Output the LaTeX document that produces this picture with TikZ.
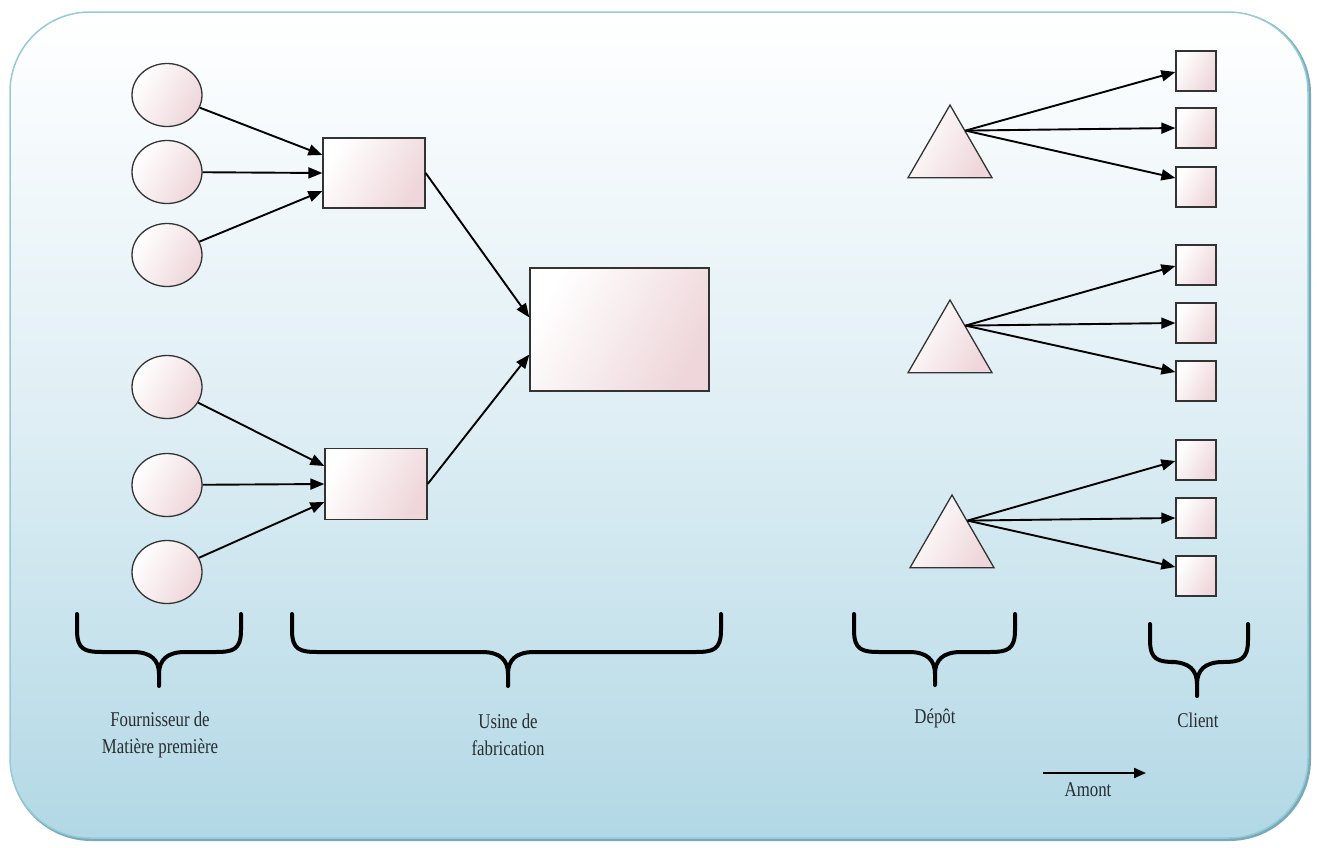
\documentclass[tikz,border=0pt]{standalone}
\usepackage{fontspec}
\setmainfont{Liberation Serif}
\newfontfamily\condfont[FakeStretch=0.8]{Liberation Serif}
\usetikzlibrary{shapes.geometric,arrows.meta,calc}
\definecolor{bgblue}{RGB}{178,216,229}
\definecolor{bordblue}{RGB}{150,202,216}
\definecolor{shadowblue}{RGB}{120,170,186}
\definecolor{shpink}{RGB}{238,214,218}
\definecolor{txtgray}{RGB}{40,45,50}
\tikzset{
  shp/.style={draw=black!80, line width=1.3pt, left color=white, right color=shpink, shading angle=60, inner sep=0pt},
  circ/.style={shp, ellipse, minimum width=70pt, minimum height=63pt},
  usine/.style={shp, rectangle},
  depot/.style={shp, regular polygon, regular polygon sides=3, minimum size=97pt},
  cli/.style={shp, rectangle, minimum width=40pt, minimum height=40pt},
  arr/.style={line width=1.9pt, -{Triangle[length=14pt,width=11pt]}},
  brace/.style={line width=4pt, line cap=round, line join=round},
  lbl/.style={font=\condfont\fontsize{21pt}{27pt}\selectfont, text=txtgray, align=center}
}
\newcommand{\mybrace}[5]{% L R M T B
  \draw[brace] (#1,#4) -- (#1,#4+16) .. controls (#1,#4+36) and (#1+8,#4+38) .. (#1+26,#4+38)
   -- (#3-26,#4+38) .. controls (#3-8,#4+38) and (#3,#4+46) .. (#3,#4+60) -- (#3,#5);
  \draw[brace] (#2,#4) -- (#2,#4+16) .. controls (#2,#4+36) and (#2-8,#4+38) .. (#2-26,#4+38)
   -- (#3+26,#4+38) .. controls (#3+8,#4+38) and (#3,#4+46) .. (#3,#4+60);
}
\begin{document}
\begin{tikzpicture}[x=1pt,y=-1pt]
\useasboundingbox (0,0) rectangle (1317,847);
% background with soft shadow edge
\draw[shadowblue, line width=3pt, rounded corners=80pt] (11.5,13.5) rectangle (1309.5,839.5);
\shade[top color=white, bottom color=bgblue, middle color={rgb,255:red,222;green,238;blue,244}, rounded corners=80pt] (10,12) rectangle (1308,838);
\draw[bordblue, line width=1.5pt, rounded corners=80pt] (10,12) rectangle (1308,838);

% suppliers
\node[circ] (c1) at (167,95) {};
\node[circ] (c2) at (167,172) {};
\node[circ] (c3) at (167,255) {};
\node[circ] (c4) at (167,387) {};
\node[circ] (c5) at (167,485) {};
\node[circ] (c6) at (167,572) {};

% factories
\node[usine, minimum width=102pt, minimum height=70pt] (u1) at (374,173) {};
\node[usine, minimum width=102pt, minimum height=71pt] (u2) at (376,484) {};
\node[usine, minimum width=179pt, minimum height=123pt] (ub) at (619.5,329.5) {};

\draw[arr] (c1) -- ($(u1.west)+(0,-18)$);
\draw[arr] (c2) -- (u1.west);
\draw[arr] (c3) -- ($(u1.west)+(0,18)$);
\draw[arr] (c4) -- ($(u2.west)+(0,-18)$);
\draw[arr] (c5) -- (u2.west);
\draw[arr] (c6) -- ($(u2.west)+(0,18)$);
\draw[arr] (u1.east) -- ($(ub.west)+(0,-12)$);
\draw[arr] (u2.east) -- ($(ub.west)+(0,25)$);

% depots
\node[depot] (d1) at (950,153.5) {};
\node[depot] (d2) at (950,348.5) {};
\node[depot] (d3) at (952,543.5) {};

% clients
\foreach \i/\y in {1/71,2/128,3/187,4/265,5/323,6/381,7/460,8/518,9/576}{
  \node[cli] (k\i) at (1196,\y) {};
}
\foreach \d/\a/\b/\c in {d1/k1/k2/k3, d2/k4/k5/k6, d3/k7/k8/k9}{
  \coordinate (s\d) at ($(\d.corner 1)!0.36!(\d.corner 3)$);
  \draw[arr] (s\d) -- ($(\a.west)+(0,1)$);
  \draw[arr] (s\d) -- (\b.west);
  \draw[arr] (s\d) -- ($(\c.west)+(0,-9)$);
}

% braces
\mybrace{77}{241}{159}{614}{686}
\mybrace{292}{721}{508}{614}{686}
\mybrace{854}{1015}{935}{614}{685}
\mybrace{1150}{1248}{1197}{624}{696}

% labels
\node[lbl] (l1) at (160,735) {Fournisseur de\\Matière première};
\node[lbl] (l2) at (508,735) {Usine de\\fabrication};
\node[lbl] (l3) at (935,718) {Dépôt};
\node[lbl] (l4) at (1198,720) {Client};

\coordinate (a1) at (1043,773);
\coordinate (a2) at (1146,773);
\draw[line width=2pt, -{Triangle[length=12pt,width=10pt]}] (a1) -- (a2);
\node[lbl] (l5) at (1088,790) {Amont};
\end{tikzpicture}
\end{document}
